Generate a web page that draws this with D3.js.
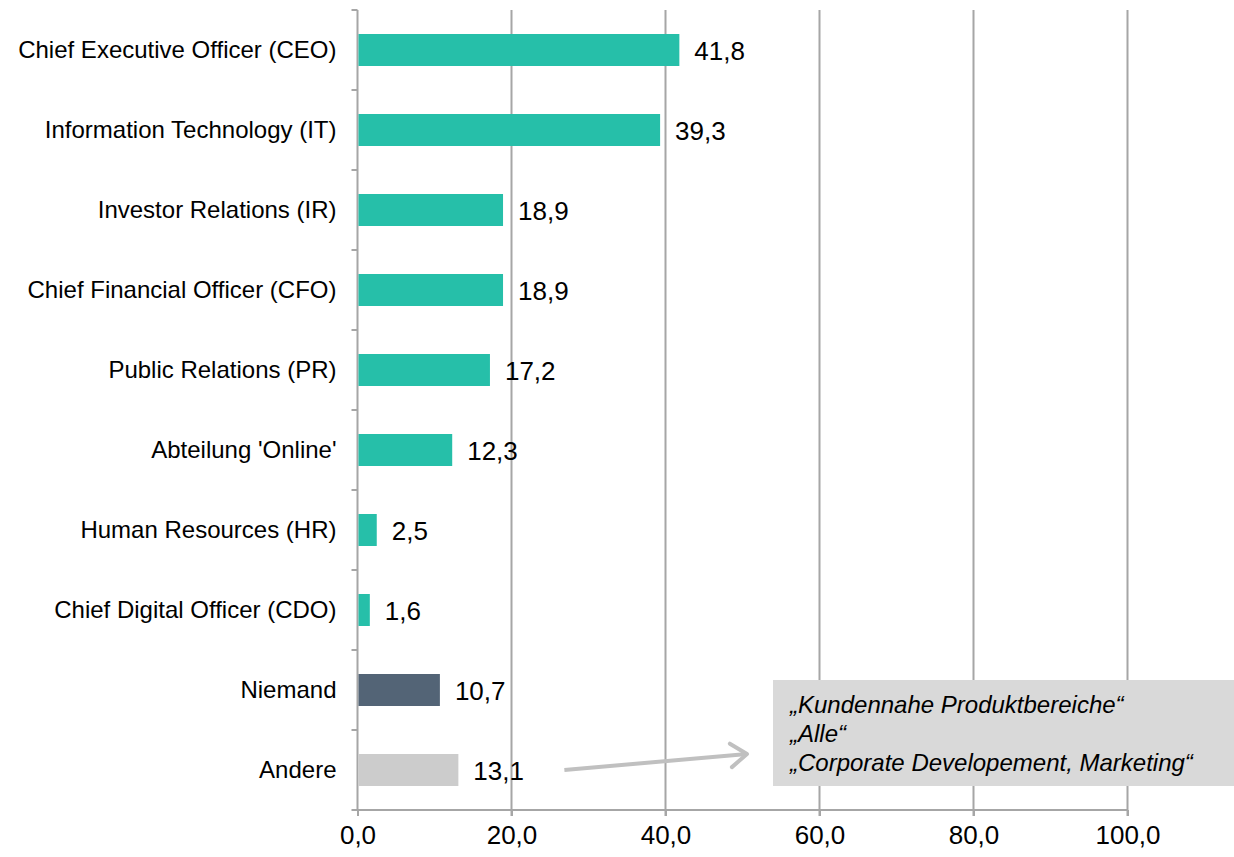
<!DOCTYPE html>
<html>
<head>
<meta charset="utf-8">
<script src="https://cdn.jsdelivr.net/npm/d3@7"></script>
<style>
  body { margin: 0; background: #fff; }
  text { font-family: "Liberation Sans", Arial, sans-serif; fill: #000; }
</style>
</head>
<body>
<svg id="chart" width="1234" height="857"></svg>
<script>
const CATEGORIES = ["Chief Executive Officer (CEO)", "Information Technology (IT)", "Investor Relations (IR)",
                    "Chief Financial Officer (CFO)", "Public Relations (PR)", "Abteilung 'Online'",
                    "Human Resources (HR)", "Chief Digital Officer (CDO)", "Niemand", "Andere"];
const VALUES = [41.8, 39.3, 18.9, 18.9, 17.2, 12.3, 2.5, 1.6, 10.7, 13.1];
const GROUPS = ["role", "role", "role", "role", "role", "role", "role", "role", "none", "other"];
const X_TICKS = [0, 20, 40, 60, 80, 100];
const NOTE_LINES = ["„Kundennahe Produktbereiche“", "„Alle“", "„Corporate Developement, Marketing“"];
const NOTE_FOR = "Andere";

const colors = { role: "#26bfa9", none: "#536476", other: "#cccccc" };
const fmt = d => d3.format(".1f")(d).replace(".", ",");

const svg = d3.select("svg#chart"),
      margin = {top: 10, left: 357.5, right: 106.5, bottom: 47},
      width = +svg.attr("width") - margin.left - margin.right,
      height = +svg.attr("height") - margin.top - margin.bottom;

const x = d3.scaleLinear().domain([0, 100]).range([0, width]);
const y = d3.scaleBand().domain(CATEGORIES).range([0, height]).paddingInner(0.6).paddingOuter(0.3);
const yBand = d3.scaleBand().domain(CATEGORIES).range([0, height]);

const g = svg.append("g").attr("transform", `translate(${margin.left},${margin.top})`);

// grid lines (with small ticks below the axis)
g.selectAll(".grid")
  .data(X_TICKS.filter(d => d > 0))
  .enter().append("line")
    .attr("x1", d => x(d)).attr("x2", d => x(d))
    .attr("y1", 0).attr("y2", height + 6)
    .attr("stroke", "#a6a6a6").attr("stroke-width", 2);

// bottom axis
const xAxis = d3.axisBottom(x).tickValues(X_TICKS).tickFormat(fmt).tickSize(6).tickPadding(10);
const gx = g.append("g").attr("transform", `translate(0,${height})`).call(xAxis);
gx.select(".domain").remove();
gx.selectAll(".tick line").attr("stroke", "#a6a6a6").attr("stroke-width", 2);
gx.selectAll(".tick text").attr("font-size", 26).attr("font-family", "Liberation Sans, Arial, sans-serif").attr("fill", "#000");
g.append("line")
  .attr("x1", -6).attr("x2", x(100))
  .attr("y1", height).attr("y2", height)
  .attr("stroke", "#a6a6a6").attr("stroke-width", 2);

// left axis line with band ticks
g.append("line")
  .attr("x1", 0).attr("x2", 0).attr("y1", 0).attr("y2", height)
  .attr("stroke", "#a6a6a6").attr("stroke-width", 2);
g.selectAll(".ytick")
  .data(CATEGORIES)
  .enter().append("line")
    .attr("x1", -6).attr("x2", 0)
    .attr("y1", d => yBand(d)).attr("y2", d => yBand(d))
    .attr("stroke", "#a6a6a6").attr("stroke-width", 2);

// bars
g.selectAll(".bar")
  .data(CATEGORIES)
  .enter().append("rect")
    .attr("x", 1)
    .attr("y", d => y(d))
    .attr("width", (d, i) => x(VALUES[i]) - 1)
    .attr("height", y.bandwidth())
    .attr("fill", (d, i) => colors[GROUPS[i]]);

// category labels
g.selectAll(".cat")
  .data(CATEGORIES)
  .enter().append("text")
    .attr("x", -21)
    .attr("y", d => y(d) + y.bandwidth() / 2)
    .attr("dy", "0.35em")
    .attr("text-anchor", "end")
    .attr("font-size", 24)
    .text(d => d);

// value labels
g.selectAll(".val")
  .data(CATEGORIES)
  .enter().append("text")
    .attr("x", (d, i) => x(VALUES[i]) + 15)
    .attr("y", d => y(d) + y.bandwidth() / 2 + 1)
    .attr("dy", "0.35em")
    .attr("font-size", 26)
    .text((d, i) => fmt(VALUES[i]));

// note box
const noteX = 773, noteY = 680, noteW = 1234 - 773, noteH = 106;
svg.append("rect")
  .attr("x", noteX).attr("y", noteY).attr("width", noteW).attr("height", noteH)
  .attr("fill", "#d9d9d9");
svg.selectAll(".note")
  .data(NOTE_LINES)
  .enter().append("text")
    .attr("x", noteX + 17)
    .attr("y", (d, i) => noteY + 25 + i * 29)
    .attr("dy", "0.35em")
    .attr("font-size", 24)
    .attr("font-style", "italic")
    .text(d => d);

// arrow from "Andere" label to the note
const ai = CATEGORIES.indexOf(NOTE_FOR);
const ay = margin.top + y(NOTE_FOR) + y.bandwidth() / 2;
const ax0 = margin.left + x(VALUES[ai]) + 106;
const ax1 = 747, ay1 = ay - 16;
svg.append("line")
  .attr("x1", ax0).attr("y1", ay).attr("x2", ax1).attr("y2", ay1)
  .attr("stroke", "#c0c0c0").attr("stroke-width", 4);
const ang = Math.atan2(ay1 - ay, ax1 - ax0);
const hl = 20, ha = Math.PI / 5;
svg.append("path")
  .attr("d", `M${ax1 - hl * Math.cos(ang - ha)},${ay1 - hl * Math.sin(ang - ha)}L${ax1},${ay1}L${ax1 - hl * Math.cos(ang + ha)},${ay1 - hl * Math.sin(ang + ha)}`)
  .attr("fill", "none").attr("stroke", "#c0c0c0").attr("stroke-width", 4).attr("stroke-linecap", "round").attr("stroke-linejoin", "round");
</script>
</body>
</html>
